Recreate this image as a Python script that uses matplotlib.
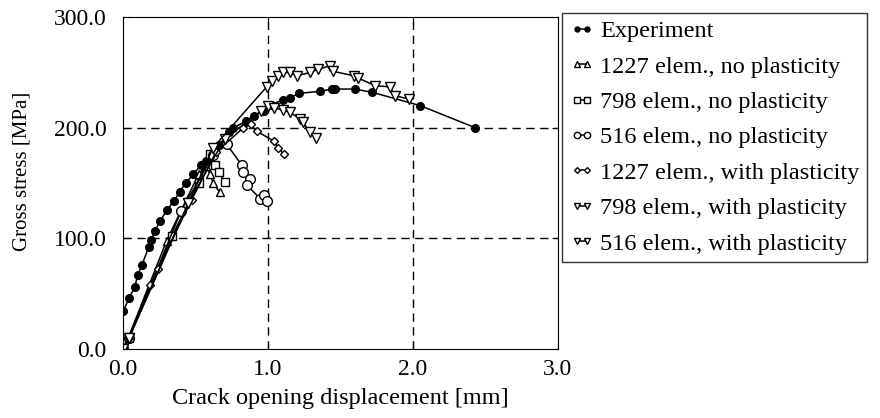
import numpy as np
import matplotlib
matplotlib.use("Agg")
import matplotlib.pyplot as plt
from matplotlib.ticker import FormatStrFormatter

plt.rcParams['font.family'] = ['Liberation Serif', 'DejaVu Serif']

# Experiment
exp_x = [0.00, 0.04, 0.08, 0.10, 0.13, 0.175, 0.195, 0.22, 0.255, 0.305, 0.35, 0.39,
         0.43, 0.485, 0.535, 0.57, 0.61, 0.66, 0.73, 0.76, 0.85, 0.90, 0.97, 1.02,
         1.10, 1.15, 1.21, 1.36, 1.44, 1.46, 1.60, 1.72, 2.05, 2.43]
exp_y = [34, 46, 56, 67, 76, 92, 99, 107, 116, 126, 134, 142,
         150, 158, 166, 170, 176, 184, 196, 200, 206, 211, 215, 221,
         225, 227, 231, 233, 235, 235, 235, 232, 220, 200]

# 1227 elem., no plasticity
e1227_np_x = [0.0, 0.01, 0.30, 0.52, 0.57, 0.60, 0.62, 0.665]
e1227_np_y = [0, 2, 98, 158, 165, 158, 150, 142]

# 798 elem., no plasticity
e798_np_x = [0.0, 0.037, 0.336, 0.52, 0.60, 0.635, 0.66, 0.70]
e798_np_y = [0, 10, 102, 150, 176, 166, 160, 151]

# 516 elem., no plasticity
e516_np_x = [0.0, 0.04, 0.40, 0.62, 0.715, 0.82, 0.83, 0.876, 0.855, 0.945, 0.975, 0.995]
e516_np_y = [0, 10, 125, 175, 185, 166, 160, 154, 148, 136, 139, 134]

# 1227 elem., with plasticity
e1227_p_x = [0.0, 0.04, 0.186, 0.237, 0.473, 0.64, 0.83, 0.88, 0.92, 1.04, 1.07, 1.11]
e1227_p_y = [0, 10, 58, 72, 135, 178, 200, 203, 197, 188, 182, 176]

# 798 elem., with plasticity
e798_p_x = [0.0, 0.04, 0.45, 0.70, 0.95, 1.00, 1.04, 1.10, 1.15, 1.22, 1.24, 1.29, 1.33]
e798_p_y = [0, 10, 132, 190, 215, 220, 218, 216, 214, 208, 205, 196, 191]

# 516 elem., with plasticity
e516_p_x = [0.0, 0.04, 0.45, 0.62, 0.99, 1.025, 1.07, 1.105, 1.15, 1.20, 1.29, 1.345,
            1.43, 1.45, 1.59, 1.62, 1.74, 1.84, 1.875, 1.97]
e516_p_y = [0, 10, 132, 182, 237, 242, 247, 250, 250, 247, 250, 253,
            256, 251, 247, 245, 238, 237, 229, 226]

fig = plt.figure(figsize=(8.8, 4.18), dpi=100)
ax = fig.add_axes([0.14, 0.165, 0.494, 0.794])

ms = 6.0
ax.plot(exp_x, exp_y, '-o', color='black', mfc='black', ms=ms - 0.5, lw=1.1, label='Experiment')
ax.plot(e1227_np_x, e1227_np_y, '-^', color='black', mfc='white', ms=ms, lw=1.1,
        label='1227 elem., no plasticity')
ax.plot(e798_np_x, e798_np_y, '-s', color='black', mfc='white', ms=ms, lw=1.1,
        label='798 elem., no plasticity')
ax.plot(e516_np_x, e516_np_y, '-o', color='black', mfc='white', ms=ms + 1, lw=1.1,
        label='516 elem., no plasticity')
ax.plot(e1227_p_x, e1227_p_y, '-D', color='black', mfc='white', ms=ms - 1.5, lw=1.1,
        label='1227 elem., with plasticity')
ax.plot(e798_p_x, e798_p_y, '-v', color='black', mfc='white', ms=ms + 1, lw=1.1,
        label='798 elem., with plasticity')
ax.plot(e516_p_x, e516_p_y, '-v', color='black', mfc='white', ms=ms + 1, lw=1.1,
        label='516 elem., with plasticity')

ax.set_xlim(0, 3.0)
ax.set_ylim(0, 300)
ax.set_xticks([0, 1, 2, 3])
ax.set_yticks([0, 100, 200, 300])
ax.xaxis.set_major_formatter(FormatStrFormatter('%.1f'))
ax.yaxis.set_major_formatter(FormatStrFormatter('%.1f'))
ax.tick_params(direction='in', top=True, right=True, labelsize=17, length=4)
ax.tick_params(axis='x', pad=7)
ax.tick_params(axis='y', pad=12)
for v in [1, 2]:
    ax.axvline(v, color='black', ls=(0, (6, 4)), lw=1.0, zorder=0)
for v in [100, 200]:
    ax.axhline(v, color='black', ls=(0, (6, 4)), lw=1.0, zorder=0)
ax.set_xlabel('Crack opening displacement [mm]', fontsize=17.5, labelpad=6)
ax.set_ylabel('Gross stress [MPa]', fontsize=15)
ax.yaxis.set_label_coords(-0.21, 0.536)

leg = ax.legend(loc='upper left', bbox_to_anchor=(0.639, 0.969), bbox_transform=fig.transFigure,
                numpoints=2, handlelength=1.0, handletextpad=0.25, markerscale=0.65,
                fontsize=17.5, frameon=True, fancybox=False, borderpad=0.3,
                labelspacing=0.55, borderaxespad=0)
leg.get_frame().set_edgecolor('black')
leg.get_frame().set_linewidth(1.0)

fig.savefig('out.png', dpi=100)
